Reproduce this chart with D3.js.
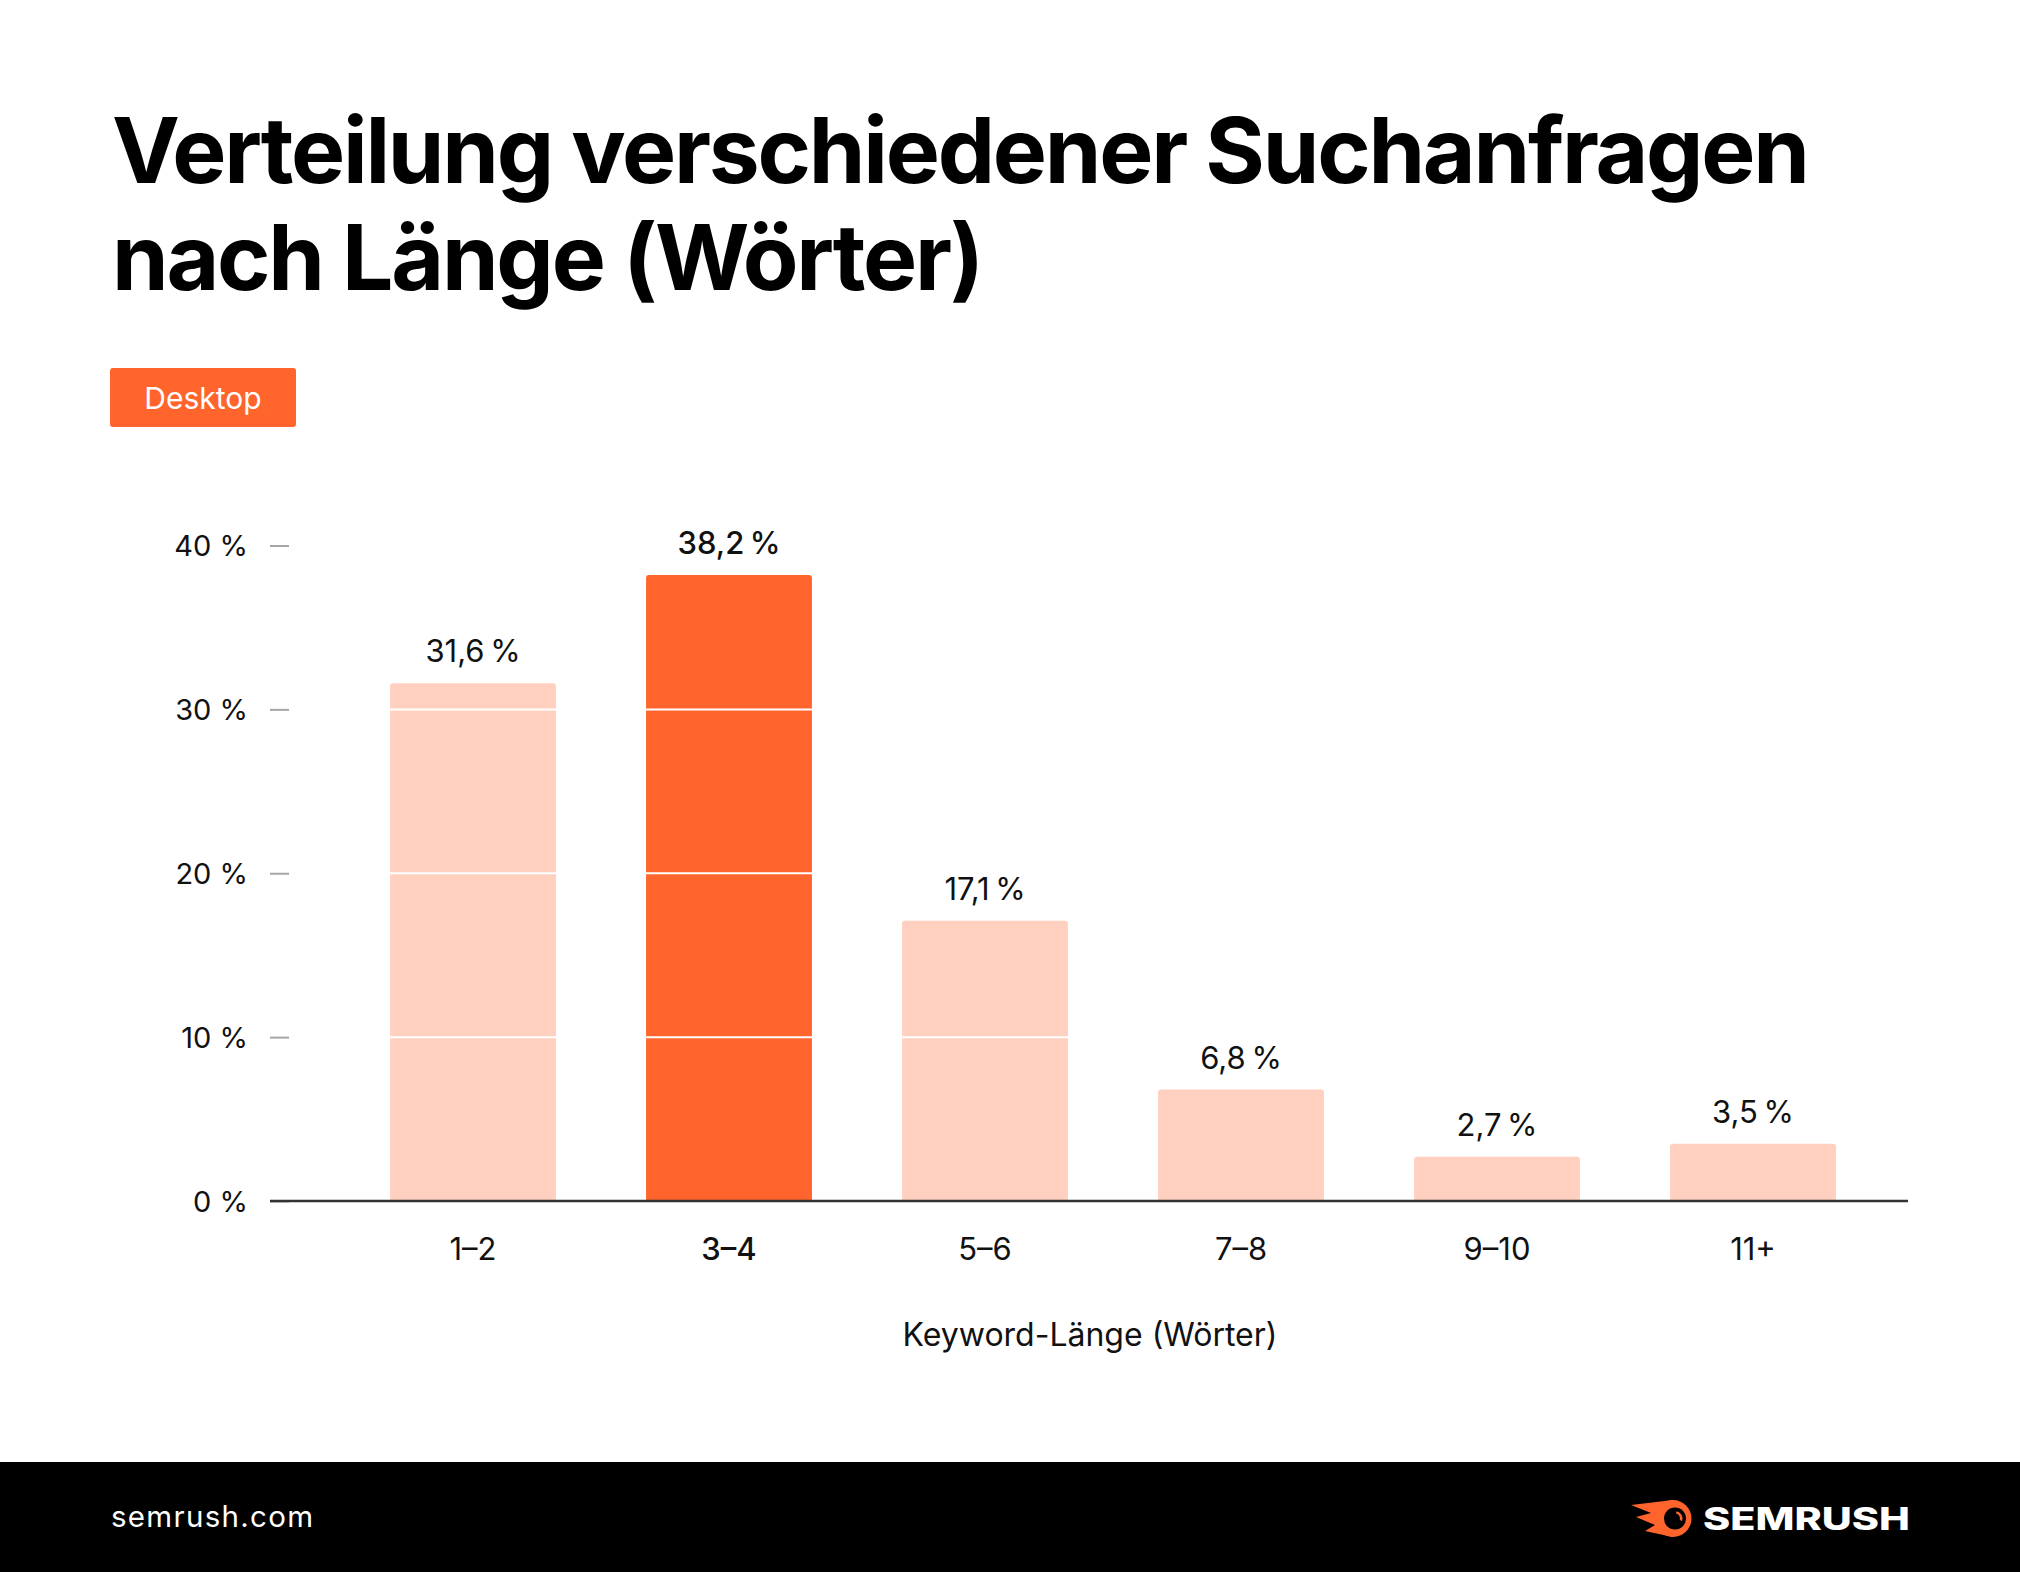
<!DOCTYPE html>
<html>
<head>
<meta charset="utf-8">
<script src="https://cdn.jsdelivr.net/npm/d3@7"></script>
<style>
  html, body { margin: 0; padding: 0; background: #fff; }
  svg { display: block; }
  text { font-family: Inter, "Noto Sans", sans-serif; }
</style>
</head>
<body>
<svg id="chart" width="2020" height="1572"></svg>
<script>
// ---- data ----
const titleLines = ["Verteilung verschiedener Suchanfragen", "nach Länge (Wörter)"];
const legendLabel = "Desktop";
const categories = ["1–2", "3–4", "5–6", "7–8", "9–10", "11+"];
const values = [31.6, 38.2, 17.1, 6.8, 2.7, 3.5];
const highlightCategory = "3–4";
const yTicks = [0, 10, 20, 30, 40];
const xAxisTitle = "Keyword-Länge (Wörter)";
const footerText = "semrush.com";
const logoText = "SEMRUSH";

// ---- styles ----
const ORANGE = "#FF642D";
const LIGHT = "#FFD0C0";

const svg = d3.select("#chart");
svg.append("rect").attr("width", 2020).attr("height", 1572).attr("fill", "#fff");

// title
const titleG = svg.append("g");
titleLines.forEach((t, i) => {
  titleG.append("text")
    .attr("x", 112)
    .attr("y", 183 + i * 107)
    .attr("font-size", 91)
    .attr("font-weight", 700)
    .attr("fill", "#000")
    .text(t);
});
{
  const first = titleG.select("text").node();
  const w = first.getComputedTextLength();
  const target = 1698;
  const ls = (target - w) / (titleLines[0].length - 1);
  titleG.selectAll("text").attr("letter-spacing", ls);
}

// legend badge
svg.append("rect")
  .attr("x", 110).attr("y", 368).attr("width", 186).attr("height", 59)
  .attr("rx", 3).attr("fill", ORANGE);
svg.append("text")
  .attr("x", 203).attr("y", 409)
  .attr("text-anchor", "middle")
  .attr("font-size", 30)
  .attr("fill", "#fff")
  .text(legendLabel);

// scales
const x = d3.scaleBand()
  .domain(categories)
  .range([345, 1881])
  .paddingInner(0.352)
  .paddingOuter(0.176);

const y = d3.scaleLinear()
  .domain([0, 40])
  .range([1201, 545.5]);

const data = categories.map((c, i) => ({ cat: c, v: values[i] }));

// y axis ticks + labels
const yAxis = d3.axisLeft(y)
  .tickValues(yTicks)
  .tickSize(19)
  .tickPadding(22)
  .tickFormat(d => d + " %");
const yG = svg.append("g").attr("transform", "translate(289,0)").call(yAxis);
yG.select(".domain").remove();
yG.selectAll(".tick line").attr("stroke", "#A6A6A6").attr("stroke-width", 2);
yG.selectAll(".tick text")
  .attr("font-size", 29)
  .attr("fill", "#111")
  .attr("font-family", "Inter, sans-serif")
  .attr("dy", "0.36em");

// bars with rounded top corners
function barPath(d) {
  const x0 = x(d.cat), w = x.bandwidth();
  const y0 = y(d.v), y1 = y(0);
  const r = 3;
  return `M${x0},${y1} L${x0},${y0 + r} Q${x0},${y0} ${x0 + r},${y0} L${x0 + w - r},${y0} Q${x0 + w},${y0} ${x0 + w},${y0 + r} L${x0 + w},${y1} Z`;
}
svg.append("g").selectAll("path")
  .data(data)
  .join("path")
  .attr("d", barPath)
  .attr("fill", d => d.cat === highlightCategory ? ORANGE : LIGHT);

// white gridlines over bars
svg.append("g").selectAll("line")
  .data(yTicks.filter(t => t > 0))
  .join("line")
  .attr("x1", 300).attr("x2", 1900)
  .attr("y1", d => y(d)).attr("y2", d => y(d))
  .attr("stroke", "#fff").attr("stroke-width", 2);

// baseline
svg.append("line")
  .attr("x1", 270).attr("x2", 1908)
  .attr("y1", y(0)).attr("y2", y(0))
  .attr("stroke", "#333").attr("stroke-width", 2.5);

// value labels
svg.append("g").selectAll("text")
  .data(data)
  .join("text")
  .attr("x", d => x(d.cat) + x.bandwidth() / 2)
  .attr("y", d => y(d.v) - 21)
  .attr("text-anchor", "middle")
  .attr("font-size", 31)
  .attr("font-weight", d => d.cat === highlightCategory ? 500 : 400)
  .attr("fill", "#111")
  .text(d => String(d.v).replace(".", ",") + "\u2009%");

// x axis labels
const xAxis = d3.axisBottom(x).tickSize(0).tickPadding(0);
const xG = svg.append("g").attr("transform", `translate(0,${y(0)})`).call(xAxis);
xG.select(".domain").remove();
xG.selectAll(".tick text")
  .attr("font-size", 31)
  .attr("font-family", "Inter, sans-serif")
  .attr("fill", "#111")
  .attr("dy", null)
  .attr("y", 59)
  .attr("font-weight", d => d === highlightCategory ? 500 : 400);

// x axis title
svg.append("text")
  .attr("x", 1090).attr("y", 1346)
  .attr("text-anchor", "middle")
  .attr("font-size", 32)
  .attr("fill", "#111")
  .text(xAxisTitle);

// footer
svg.append("rect").attr("x", 0).attr("y", 1462).attr("width", 2020).attr("height", 110).attr("fill", "#000");
svg.append("text")
  .attr("x", 111).attr("y", 1527)
  .attr("font-size", 29.5)
  .attr("letter-spacing", 1.3)
  .attr("fill", "#fff")
  .text(footerText);

// logo icon
const logo = svg.append("g");
logo.append("path")
  .attr("d", "M1673,1500 L1631,1505 L1651,1513 L1636,1517 L1655,1525 L1645,1531 L1668,1536 L1673,1537 Z")
  .attr("fill", ORANGE);
logo.append("circle").attr("cx", 1673).attr("cy", 1518.5).attr("r", 18.5).attr("fill", ORANGE);
logo.append("circle").attr("cx", 1675).attr("cy", 1518.5).attr("r", 11).attr("fill", "#000");
logo.append("path")
  .attr("d", d3.arc()({ innerRadius: 5, outerRadius: 7.5, startAngle: 0.2, endAngle: 1.9 }))
  .attr("transform", "translate(1675,1518.5)")
  .attr("fill", ORANGE);
logo.append("text")
  .attr("x", 1703).attr("y", 1530)
  .attr("font-size", 31)
  .attr("font-weight", 800)
  .attr("fill", "#fff")
  .attr("textLength", 207)
  .attr("lengthAdjust", "spacingAndGlyphs")
  .text(logoText);
</script>
</body>
</html>
